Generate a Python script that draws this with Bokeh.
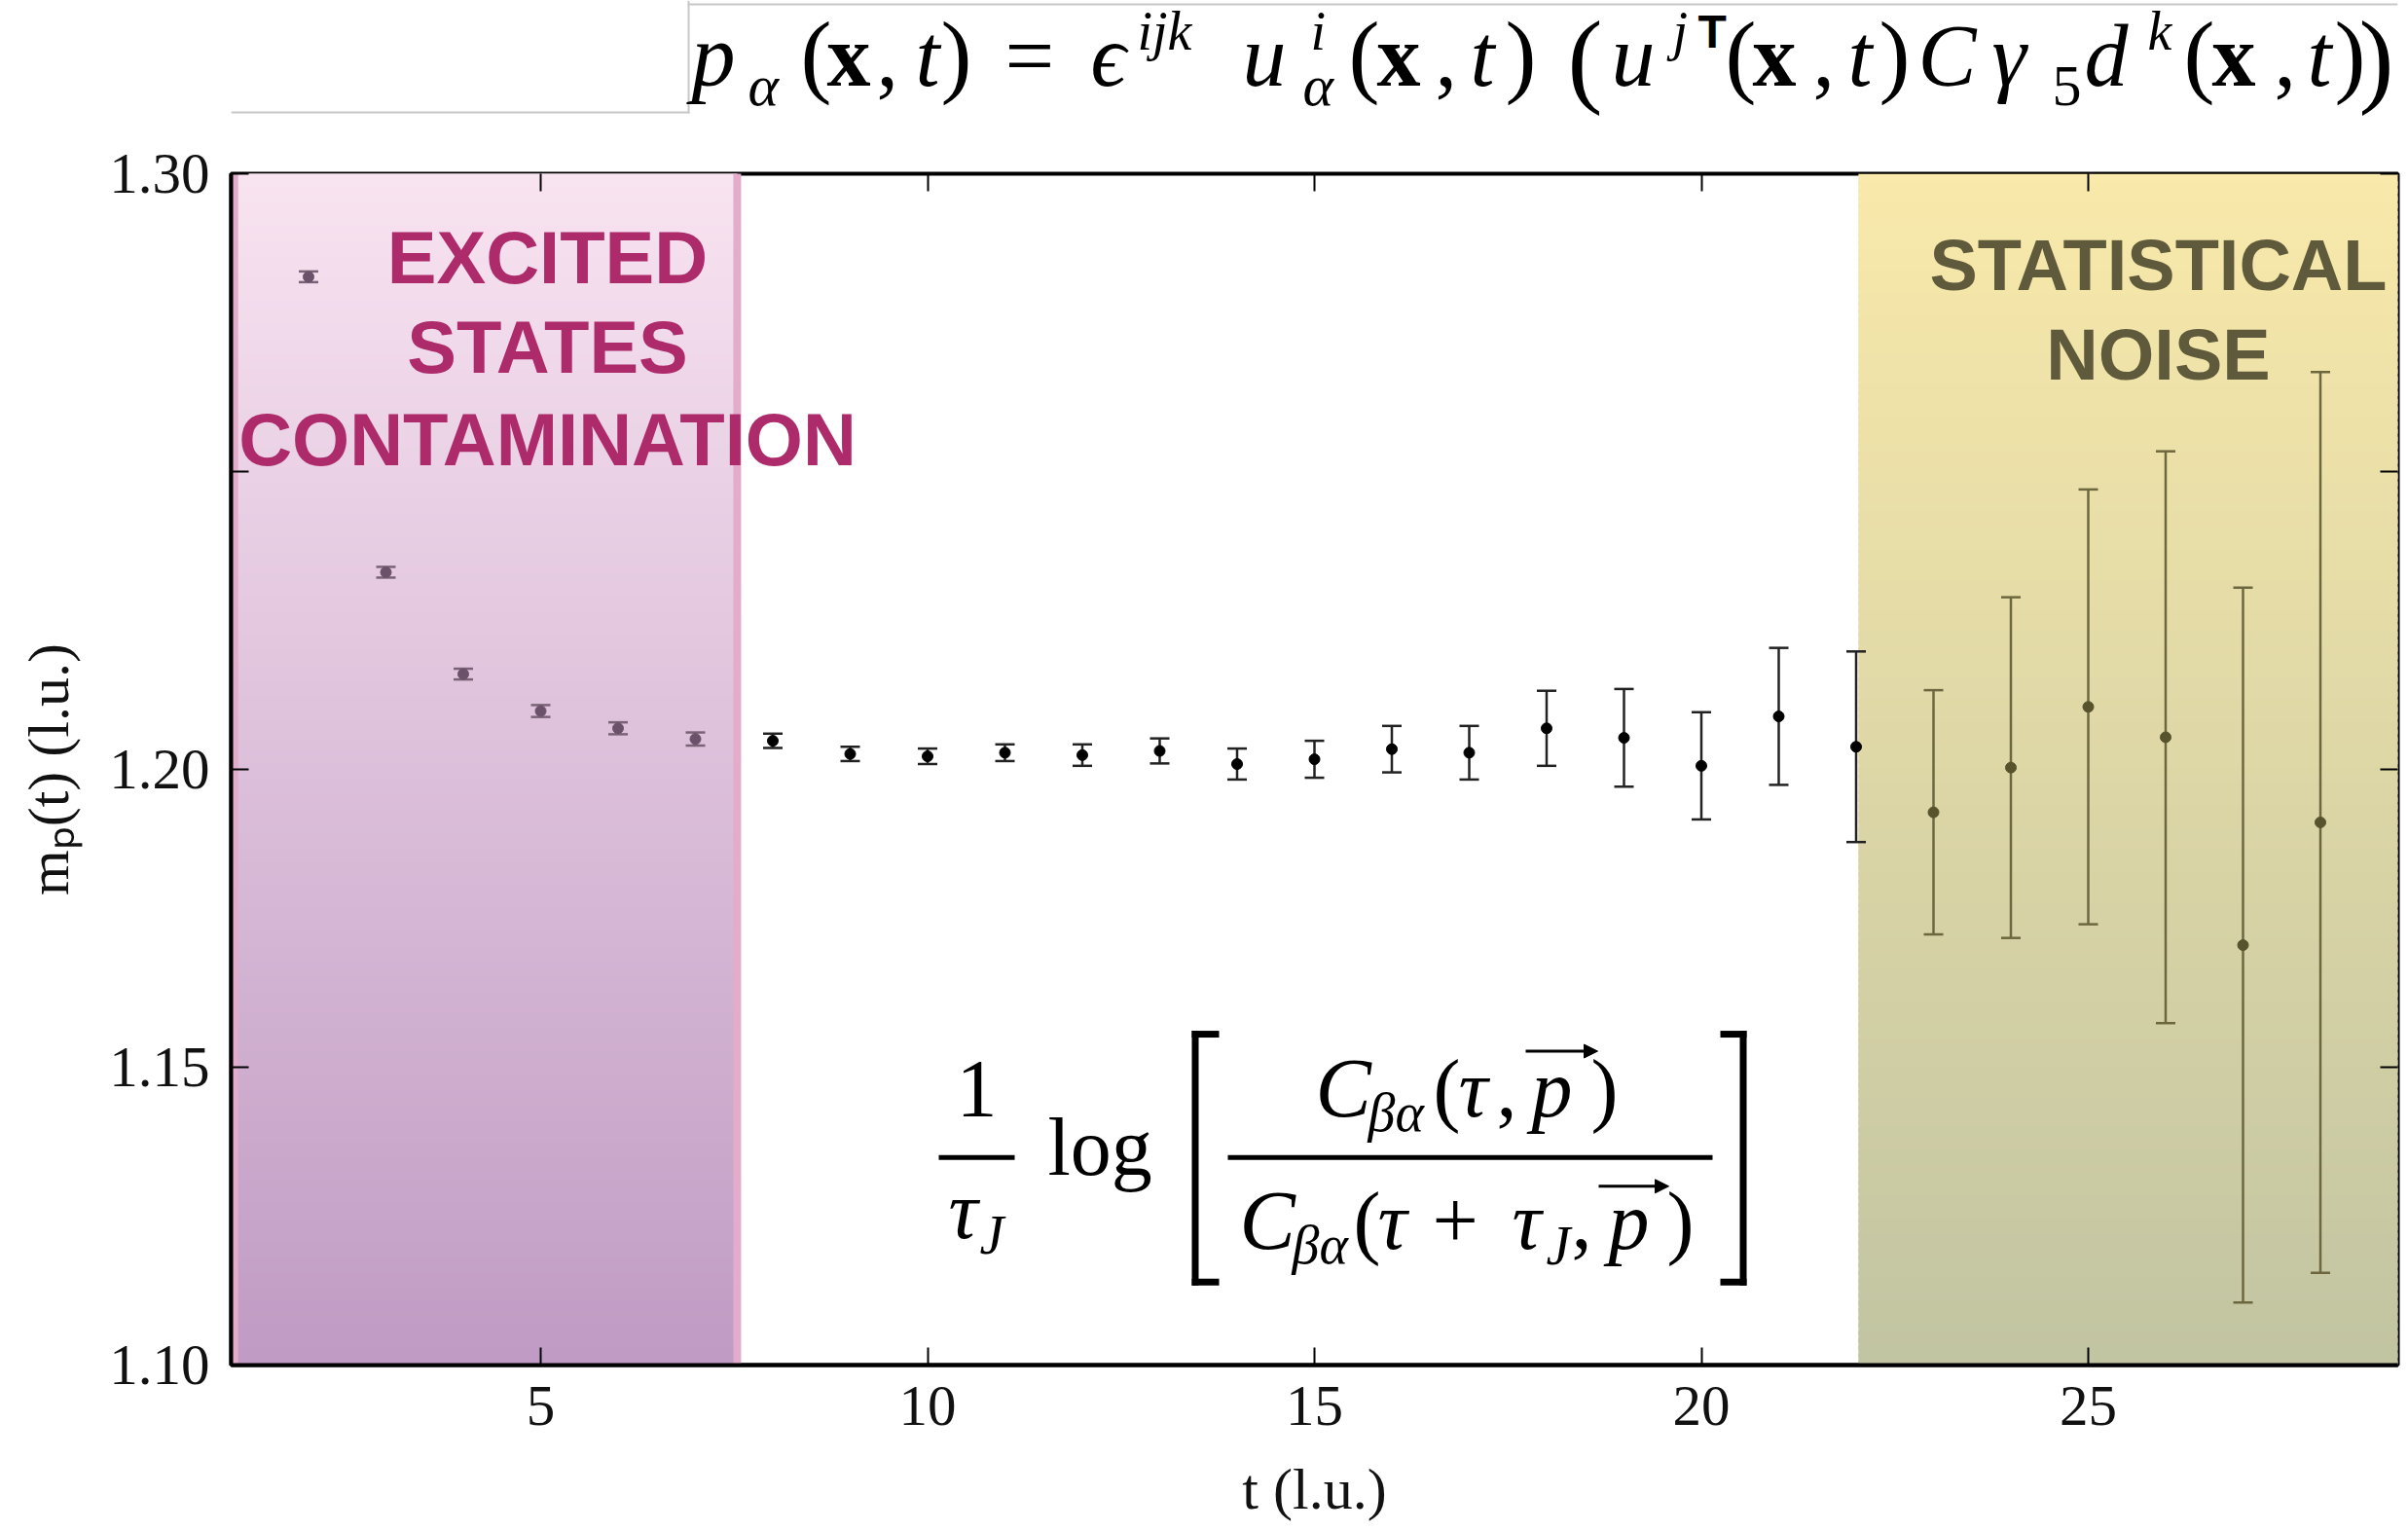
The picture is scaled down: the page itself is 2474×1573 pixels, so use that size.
import numpy as np
from bokeh.plotting import figure
from bokeh.layouts import column
from bokeh.models import (Label, Range1d, LinearAxis, FixedTicker, BoxAnnotation,
                          Arrow, NormalHead)
from bokeh.embed import file_html
from bokeh.resources import INLINE

# ---------------- data ----------------
t_values = [2, 3, 4, 5, 6, 7, 8, 9, 10, 11, 12, 13, 14, 15, 16, 17, 18, 19, 20,
            21, 22, 23, 24, 25, 26, 27, 28]
m_values = [1.2827, 1.2331, 1.2160, 1.2098, 1.2069, 1.2051, 1.2048, 1.2026, 1.2022,
            1.2028, 1.2024, 1.2031, 1.2009, 1.2017, 1.2034, 1.2028, 1.2069, 1.2053,
            1.2006, 1.2089, 1.2038, 1.1928, 1.2003, 1.2105, 1.2054, 1.1705, 1.1911]
m_errors = [0.0009, 0.0009, 0.0009, 0.0010, 0.0010, 0.0011, 0.0012, 0.0012, 0.0013,
            0.0014, 0.0018, 0.0021, 0.0026, 0.0031, 0.0039, 0.0045, 0.0063, 0.0082,
            0.0090, 0.0115, 0.0160, 0.0205, 0.0286, 0.0365, 0.0480, 0.0600, 0.0756]

x_ticks = [5, 10, 15, 20, 25]
x_tick_labels = ["5", "10", "15", "20", "25"]
y_ticks = [1.10, 1.15, 1.20, 1.25, 1.30]
y_tick_labels = ["1.10", "1.15", "1.20", "", "1.30"]
x_axis_label = "t (l.u.)"
y_axis_label = "mₚ(t) (l.u.)"

excited_t = (1.04, 7.54)      # shaded band: excited states contamination
noise_t = (22.03, 29.10)      # shaded band: statistical noise
excited_words = ["EXCITED", "STATES", "CONTAMINATION"]
noise_words = ["STATISTICAL", "NOISE"]

# ---------------- layout (page pixels) ----------------
W = 2466
TOP_H = 144                    # strip holding the operator formula
MAIN_H = 1565 - TOP_H
PL, PR, PT, PB = 237, 2463, 178, 1404   # plot frame on the page
XR = (1.0, 29.0)
YR = (1.10, 1.30)
SERIF = "Liberation Serif"
SANS = "Liberation Sans"
K = 0.385                      # baseline correction (fraction of font size)

FT = PT - TOP_H
FB = PB - TOP_H


def dx(px):
    return XR[0] + (px - PL) / (PR - PL) * (XR[1] - XR[0])


def dy(py):
    return YR[0] + (FB - (py - TOP_H)) / (FB - FT) * (YR[1] - YR[0])


p = figure(width=W, height=MAIN_H, x_range=Range1d(*XR), y_range=Range1d(*YR),
           output_backend="svg", toolbar_location=None,
           min_border_left=PL, min_border_right=W - PR,
           min_border_top=FT, min_border_bottom=MAIN_H - FB,
           background_fill_color="white", border_fill_color="white")
p.grid.visible = False
p.outline_line_color = "black"
p.outline_line_width = 4


def hexc(c):
    return "#%02x%02x%02x" % tuple(int(round(v)) for v in c)


def gradient(x0, x1, ytop, ybot, ctop, cbot, n=160):
    edges = np.linspace(ytop, ybot, n + 1)
    step = (ytop - ybot) / n
    fr = (np.arange(n) + 0.5) / n
    cols = [hexc([a + (b - a) * f for a, b in zip(ctop, cbot)]) for f in fr]
    p.quad(left=x0, right=x1, top=edges[:-1], bottom=edges[1:] - 0.6 * step,
           fill_color=cols, line_color=None)


# shaded bands (opaque gradients under the data)
gradient(excited_t[0], excited_t[1], dy(169), dy(1417), (249, 228, 241), (191, 154, 195))
p.quad(left=excited_t[0], right=excited_t[1], top=dy(172), bottom=dy(1413),
       fill_color=None, line_color="#e3accb", line_width=8)
gradient(noise_t[0], noise_t[1], dy(178), dy(1415), (249, 233, 170), (193, 196, 162))

# ---------------- data marks ----------------
t = np.array(t_values, dtype=float)
m = np.array(m_values)
e = np.array(m_errors)
pt_col, bar_col = [], []
for tv in t_values:
    if tv < excited_t[1]:
        pt_col.append("#6b5169"); bar_col.append("#7a6276")
    elif tv > noise_t[0]:
        pt_col.append("#57532c"); bar_col.append("#6d6740")
    else:
        pt_col.append("#000000"); bar_col.append("#222222")

p.segment(x0=t, y0=m - e, x1=t, y1=m + e, line_color=bar_col, line_width=2.5)
p.scatter(x=np.concatenate([t, t]), y=np.concatenate([m - e, m + e]), marker="dash",
          size=20, line_color=bar_col + bar_col, line_width=2.5)
p.scatter(x=t, y=m, size=11, fill_color=pt_col, line_color=pt_col)

# ---------------- axes ----------------
xa = p.below[0]
ya = p.left[0]
xa.ticker = FixedTicker(ticks=x_ticks)
xa.major_label_overrides = {v: s for v, s in zip(x_ticks, x_tick_labels)}
ya.ticker = FixedTicker(ticks=y_ticks)
ya.major_label_overrides = {v: s for v, s in zip(y_ticks, y_tick_labels)}
xa.axis_label = x_axis_label
ya.axis_label = y_axis_label
for ax in (xa, ya):
    ax.axis_label_text_font = SERIF
    ax.axis_label_text_font_size = "60px"
    ax.axis_label_text_font_style = "normal"
    ax.axis_label_text_color = "#111111"
    ax.major_label_text_font = SERIF
    ax.major_label_text_font_size = "59px"
    ax.major_label_text_color = "#111111"
    ax.major_label_standoff = 22
    ax.major_tick_in = 18
    ax.major_tick_out = 0
    ax.major_tick_line_width = 2
    ax.major_tick_line_color = "black"
    ax.minor_tick_line_color = None
    ax.axis_line_width = 4
    ax.axis_line_color = "black"
xa.axis_label_standoff = 30
ya.axis_label_standoff = 26

for place, ticks in (("above", x_ticks), ("right", y_ticks)):
    p.add_layout(LinearAxis(ticker=FixedTicker(ticks=ticks),
                            major_label_overrides={v: "" for v in ticks},
                            major_label_text_font_size="0px", major_label_standoff=0,
                            axis_line_color=None, major_tick_in=18, major_tick_out=0,
                            major_tick_line_width=2, minor_tick_line_color=None), place)


def put(fig, conv_x, conv_y, text, px, py, size, style="normal", align="left",
        font=SERIF, color="#000000"):
    fig.add_layout(Label(x=conv_x(px), y=conv_y(py - K * size), text=text,
                         text_align=align, text_baseline="alphabetic", text_font=font,
                         text_font_style=style, text_font_size=f"{size}px",
                         text_color=color))


def mput(*a, **k):
    put(p, dx, dy, *a, **k)


def bar(x0, x1, y0, y1):
    p.add_layout(BoxAnnotation(left=dx(x0), right=dx(x1), top=dy(y0), bottom=dy(y1),
                               fill_color="black", fill_alpha=1.0, line_color=None))


def arrow(x0, x1, y):
    p.add_layout(Arrow(end=NormalHead(size=14, fill_color="black", line_color="black"),
                       x_start=dx(x0), y_start=dy(y), x_end=dx(x1), y_end=dy(y),
                       line_width=3, line_color="black"))


# ---------------- band captions ----------------
for word, by in zip(excited_words, [293, 386, 481]):
    mput(word, 562, by, 76, "bold", align="center", font=SANS, color="#ad2a6b")
for word, by in zip(noise_words, [301, 393]):
    mput(word, 2217, by, 74, "bold", align="center", font=SANS, color="#5e5a3b")

# ---------------- effective-mass formula inside the plot ----------------
mput("1", 1003, 1152, 84, align="center")
bar(964, 1042, 1188, 1193)
mput("τ", 989, 1277, 84, "italic", align="center")
mput("J", 1006, 1292, 56, "italic")
mput("log", 1076, 1212, 84)
bar(1224, 1231, 1060, 1322); bar(1224, 1252, 1060, 1067); bar(1224, 1252, 1315, 1322)
bar(1787, 1794, 1060, 1322); bar(1767, 1794, 1060, 1067); bar(1767, 1794, 1315, 1322)
# numerator
mput("C", 1351, 1152, 86, "italic")
mput("βα", 1405, 1166, 56, "italic")
mput("(", 1472, 1152, 84)
mput("τ", 1498, 1152, 84, "italic")
mput(",", 1537, 1152, 84)
mput("p", 1573, 1152, 84, "italic")
arrow(1567, 1641, 1081)
mput(")", 1634, 1152, 84)
bar(1261, 1759, 1188, 1193)
# denominator
mput("C", 1273, 1288, 86, "italic")
mput("βα", 1327, 1302, 56, "italic")
mput("(", 1390, 1288, 84)
mput("τ", 1415, 1288, 84, "italic")
mput("+", 1471, 1288, 84)
mput("τ", 1553, 1288, 84, "italic")
mput("J", 1588, 1303, 56, "italic")
mput(",", 1614, 1288, 84)
mput("p", 1652, 1288, 84, "italic")
arrow(1642, 1714, 1220)
mput(")", 1712, 1288, 84)

# ---------------- interpolating operator formula (top strip) ----------------
# the column layout aligns this strip's frame with the plot frame (PL..PR),
# so its x range is expressed directly in page pixels
top = figure(width=W, height=TOP_H, x_range=Range1d(PL, PR), y_range=Range1d(TOP_H, 0),
             output_backend="svg", toolbar_location=None, x_axis_type=None,
             y_axis_type=None, min_border=0, background_fill_color="white",
             border_fill_color="white")
top.grid.visible = False
top.outline_line_color = None


def tput(*a, **k):
    put(top, lambda v: v, lambda v: v, *a, **k)


for l, r, tp, bt in ((PL, 708, 114, 116), (706, 708, 0, 116), (706, PR, 3, 5)):
    top.add_layout(BoxAnnotation(left=l, right=r, top=tp, bottom=bt, fill_color="#c8c8c8",
                                 fill_alpha=1.0, line_color=None))

BASE, SUP, SUB, FS, PS, SS, UPS = 92, 53, 111, 90, 96, 60, 56
BIG, BIGB = 108, 101
top_pieces = [
    ("p", 710, BASE, FS, "italic"), ("α", 768, SUB, SS, "italic"),
    ("(", 822, BASE, PS, "normal"), ("x", 849, BASE, FS, "bold"),
    (",", 900, BASE, FS, "normal"), ("t", 940, BASE, FS, "italic"),
    (")", 966, BASE, PS, "normal"), ("=", 1032, BASE, FS, "normal"),
    ("ϵ", 1120, BASE, FS, "italic"), ("ijk", 1168, SUP, UPS, "italic"),
    ("u", 1276, BASE, FS, "italic"), ("i", 1346, SUP, UPS, "italic"),
    ("α", 1338, SUB, SS, "italic"), ("(", 1385, BASE, PS, "normal"),
    ("x", 1414, BASE, FS, "bold"), (",", 1474, BASE, FS, "normal"),
    ("t", 1510, BASE, FS, "italic"), (")", 1546, BASE, PS, "normal"),
    ("(", 1610, BIGB, BIG, "normal"), ("u", 1655, BASE, FS, "italic"),
    ("j", 1718, SUP, UPS, "italic"), ("(", 1772, BASE, PS, "normal"),
    ("x", 1800, BASE, FS, "bold"), (",", 1862, BASE, FS, "normal"),
    ("t", 1898, BASE, FS, "italic"), (")", 1930, BASE, PS, "normal"),
    ("C", 1970, BASE, FS, "italic"), ("γ", 2046, BASE, FS, "italic"),
    ("5", 2108, SUB, SS, "normal"), ("d", 2141, BASE, FS, "italic"),
    ("k", 2206, SUP, UPS, "italic"), ("(", 2243, BASE, PS, "normal"),
    ("x", 2272, BASE, FS, "bold"), (",", 2336, BASE, FS, "normal"),
    ("t", 2370, BASE, FS, "italic"), (")", 2398, BASE, PS, "normal"),
    (")", 2423, BIGB, BIG, "normal"),
]
for txt, px, py, sz, st in top_pieces:
    tput(txt, px, py, sz, st)
tput("T", 1744, SUP - 3, 48, "bold", font=SANS)

layout = column(top, p, spacing=0)
open("out.html", "w").write(file_html(layout, INLINE))
